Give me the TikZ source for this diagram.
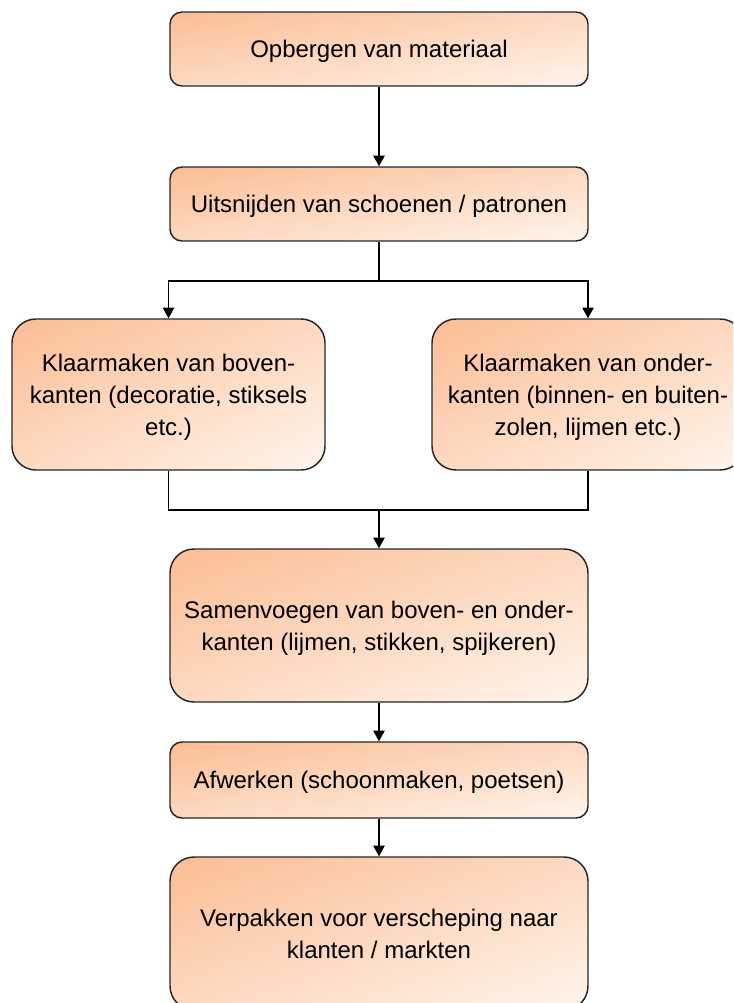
\documentclass[tikz,border=0pt]{standalone}
\usepackage{fontspec}
\setmainfont{Liberation Sans}
\usetikzlibrary{arrows.meta}
\pgfdeclarefunctionalshading{diagfill}{\pgfpoint{0bp}{0bp}}{\pgfpoint{100bp}{100bp}}{}{
  exch 25 sub exch 75 exch sub add 100 div
  dup 0 lt {pop 0} if dup 1 gt {pop 1} if
  dup 0.016 mul 0.984 add exch
  dup 0.215 mul 0.742 add exch
  0.345 mul 0.580 add
}
\begin{document}
\begin{tikzpicture}[x=0.75pt,y=-0.75pt,
  box/.style={draw=black!85, line width=1.1pt, shade, shading=diagfill,
    align=center, font=\fontsize{18}{24}\selectfont, inner sep=0pt, text depth=0pt},
  smallbox/.style={box, minimum width=313.5pt, minimum height=55.5pt, rounded corners=9pt},
  tallbox/.style={box, minimum height=113.25pt, rounded corners=18pt},
  link/.style={line width=1.1pt, draw=black},
  arr/.style={link, -{Triangle[width=8.5pt,length=8pt]}}]
\useasboundingbox (0,0) rectangle (733,1003);
\clip (0,0) rectangle (733,1003);
\node[smallbox] (b1) at (379,49) {Opbergen van materiaal};
\node[smallbox] (b2) at (379,204) {Uitsnijden van schoenen / patronen};
\node[tallbox, minimum width=234.75pt] (bl) at (168.5,394.5) {Klaarmaken van boven-\\kanten (decoratie, stiksels\\etc.)};
\node[tallbox, minimum width=234pt] (br) at (588,394.5) {Klaarmaken van onder-\\kanten (binnen- en buiten-\\zolen, lijmen etc.)};
\node[tallbox, minimum width=313.5pt, minimum height=114.75pt] (b3) at (379,625.5) {Samenvoegen van boven- en onder-\\kanten (lijmen, stikken, spijkeren)};
\node[smallbox, minimum height=57pt] (b4) at (379,780) {Afwerken (schoonmaken, poetsen)};
\node[tallbox, minimum width=313.5pt, minimum height=114.75pt] (b5) at (379,933.5) {Verpakken voor verscheping naar\\klanten / markten};
\coordinate (split) at (379,281);
\coordinate (merge) at (379,510);
\draw[arr] (b1) -- (b2);
\draw[link] (b2.south) -- (split);
\draw[arr] (split) -| (bl.north);
\draw[arr] (split) -| (br.north);
\draw[link] (bl.south) |- (merge);
\draw[link] (br.south) |- (merge);
\draw[arr] (merge) -- (b3.north);
\draw[arr] (b3) -- (b4);
\draw[arr] (b4) -- (b5);
\end{tikzpicture}
\end{document}
